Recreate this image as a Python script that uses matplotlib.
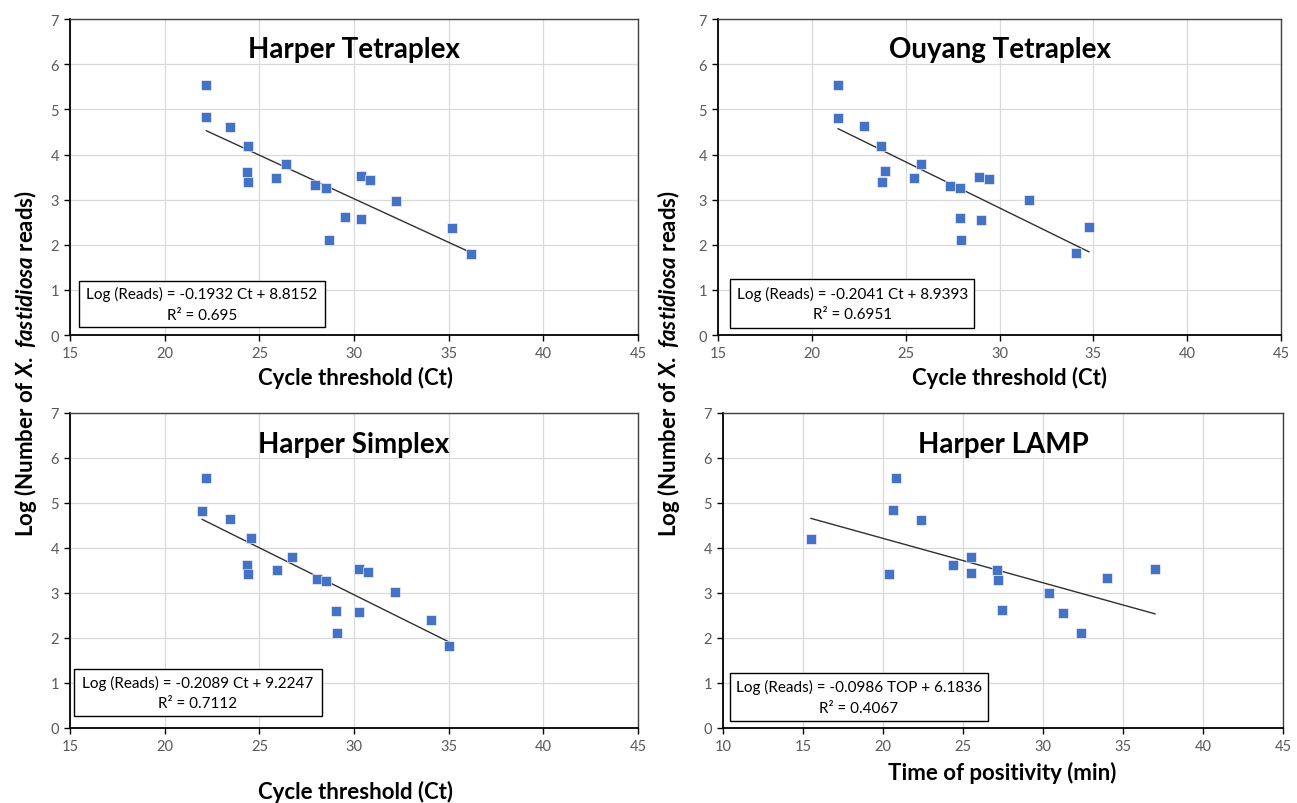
import matplotlib
matplotlib.use("Agg")
import matplotlib.pyplot as plt
from matplotlib.patches import Rectangle

plt.rcParams['font.family'] = ['Lato', 'DejaVu Sans']
plt.rcParams['mathtext.fontset'] = 'custom'
plt.rcParams['mathtext.it'] = 'Lato:italic:bold'
plt.rcParams['mathtext.rm'] = 'Lato:bold'

# === DADOS ===
# Harper Tetraplex
ht_ct = [22.2, 22.2, 23.46, 24.4, 24.34, 24.4, 25.86, 26.4, 27.94, 28.5,
         28.7, 29.54, 30.36, 30.84, 30.36, 32.24, 35.16, 36.18]
ht_log = [5.55, 4.83, 4.62, 4.19, 3.61, 3.40, 3.49, 3.78, 3.33, 3.26,
          2.11, 2.61, 3.53, 3.44, 2.57, 2.98, 2.37, 1.79]
ht_fit = (-0.1932, 8.8152)
ht_eq = "Log (Reads) = -0.1932 Ct + 8.8152\nR² = 0.695"

# Ouyang Tetraplex
ot_ct = [21.4, 21.4, 22.78, 23.69, 23.75, 23.89, 25.46, 25.83, 27.34, 27.89,
         27.89, 27.97, 28.92, 29.42, 29.0, 31.57, 34.76, 34.05]
ot_log = [5.53, 4.80, 4.64, 4.19, 3.40, 3.63, 3.49, 3.80, 3.31, 3.26,
          2.59, 2.10, 3.51, 3.46, 2.56, 3.00, 2.39, 1.81]
ot_fit = (-0.2041, 8.9393)
ot_eq = "Log (Reads) = -0.2041 Ct + 8.9393\nR² = 0.6951"

# Harper Simplex
hs_ct = [22.2, 21.98, 23.46, 24.56, 24.34, 24.4, 25.92, 26.7, 28.02, 28.5,
         29.06, 29.12, 30.24, 30.28, 30.72, 32.16, 34.04, 35.0]
hs_log = [5.55, 4.82, 4.65, 4.22, 3.62, 3.42, 3.50, 3.79, 3.32, 3.26,
          2.60, 2.10, 2.58, 3.53, 3.47, 3.01, 2.40, 1.83]
hs_fit = (-0.2089, 9.2247)
hs_eq = "Log (Reads) = -0.2089 Ct + 9.2247\nR² = 0.7112"

# Harper LAMP
hl_top = [15.5, 20.36, 20.6, 20.83, 22.39, 24.4, 25.5, 25.5, 27.13, 27.2,
          27.47, 30.37, 31.24, 32.4, 33.98, 37.0]
hl_log = [4.20, 3.42, 4.84, 5.55, 4.63, 3.62, 3.79, 3.45, 3.51, 3.28,
          2.61, 2.99, 2.56, 2.12, 3.33, 3.53]
hl_fit = (-0.0986, 6.1836)
hl_eq = "Log (Reads) = -0.0986 TOP + 6.1836\nR² = 0.4067"

AZUL = '#4472C4'
CINZA_TEXTO = '#595959'
YLABEL = "Log (Number of $\\it{X.\\ fastidiosa}$ reads)"

fig = plt.figure(figsize=(12.97, 8.04), dpi=100)


def painel(pos, x, y, fit, eq, titulo, xlim, xticks, caixa, title_y):
    ax = fig.add_axes(pos)
    ax.set_xlim(*xlim)
    ax.set_ylim(0, 7)
    ax.set_xticks(xticks)
    ax.set_yticks(range(0, 8))
    ax.grid(True, color='#d9d9d9', lw=0.9)
    ax.set_axisbelow(True)
    for lado in ['left', 'bottom']:
        ax.spines[lado].set_color('black')
        ax.spines[lado].set_linewidth(1.3)
    for lado in ['top', 'right']:
        ax.spines[lado].set_color('#404040')
        ax.spines[lado].set_linewidth(1.0)
    ax.tick_params(direction='out', length=4, width=1, color='black',
                   labelcolor=CINZA_TEXTO, labelsize=10.5, pad=4)

    # tendência
    x0, x1 = min(x), max(x)
    a, b = fit
    ax.plot([x0, x1], [a * x0 + b, a * x1 + b], color='#303030', lw=1.0, zorder=2)
    ax.plot(x, y, 's', color=AZUL, markersize=6.5, markeredgecolor='white',
            markeredgewidth=0.4, zorder=3)

    ax.text(0.5, title_y, titulo, transform=ax.transAxes, ha='center', va='center',
            fontsize=20, fontweight='bold', color='black')

    bx0, by0, bx1, by1 = caixa
    ax.add_patch(Rectangle((bx0, by0), bx1 - bx0, by1 - by0, transform=ax.transAxes,
                           facecolor='white', edgecolor='black', lw=1.0, zorder=4))
    ax.text((bx0 + bx1) / 2, (by0 + by1) / 2, eq, transform=ax.transAxes,
            ha='center', va='center', fontsize=11, color='black',
            linespacing=1.6, zorder=5)
    return ax


ct_ticks = range(15, 50, 5)
ax1 = painel([0.054, 0.582, 0.438, 0.393], ht_ct, ht_log, ht_fit, ht_eq,
             "Harper Tetraplex", (15, 45), ct_ticks, (0.016, 0.024, 0.449, 0.172), 0.905)
ax2 = painel([0.5536, 0.582, 0.4341, 0.393], ot_ct, ot_log, ot_fit, ot_eq,
             "Ouyang Tetraplex", (15, 45), ct_ticks, (0.022, 0.023, 0.455, 0.176), 0.905)
ax3 = painel([0.054, 0.0933, 0.438, 0.392], hs_ct, hs_log, hs_fit, hs_eq,
             "Harper Simplex", (15, 45), ct_ticks, (0.007, 0.037, 0.443, 0.188), 0.9)
ax4 = painel([0.5574, 0.0933, 0.4318, 0.392], hl_top, hl_log, hl_fit, hl_eq,
             "Harper LAMP", (10, 45), range(10, 50, 5), (0.012, 0.022, 0.474, 0.174), 0.9)

# rótulos dos eixos
XL = dict(ha='center', va='center', fontsize=16, fontweight='bold')
fig.text(355 / 1297, 1 - 378 / 804, "Cycle threshold (Ct)", **XL)
fig.text(1010 / 1297, 1 - 378 / 804, "Cycle threshold (Ct)", **XL)
fig.text(355 / 1297, 1 - 792 / 804, "Cycle threshold (Ct)", **XL)
fig.text(1002 / 1297, 1 - 773 / 804, "Time of positivity (min)", **XL)

fig.text(26 / 1297, 1 - 364 / 804, YLABEL, rotation=90, **XL)
fig.text(668 / 1297, 1 - 364 / 804, YLABEL, rotation=90, **XL)

fig.savefig("out.png", dpi=100)
